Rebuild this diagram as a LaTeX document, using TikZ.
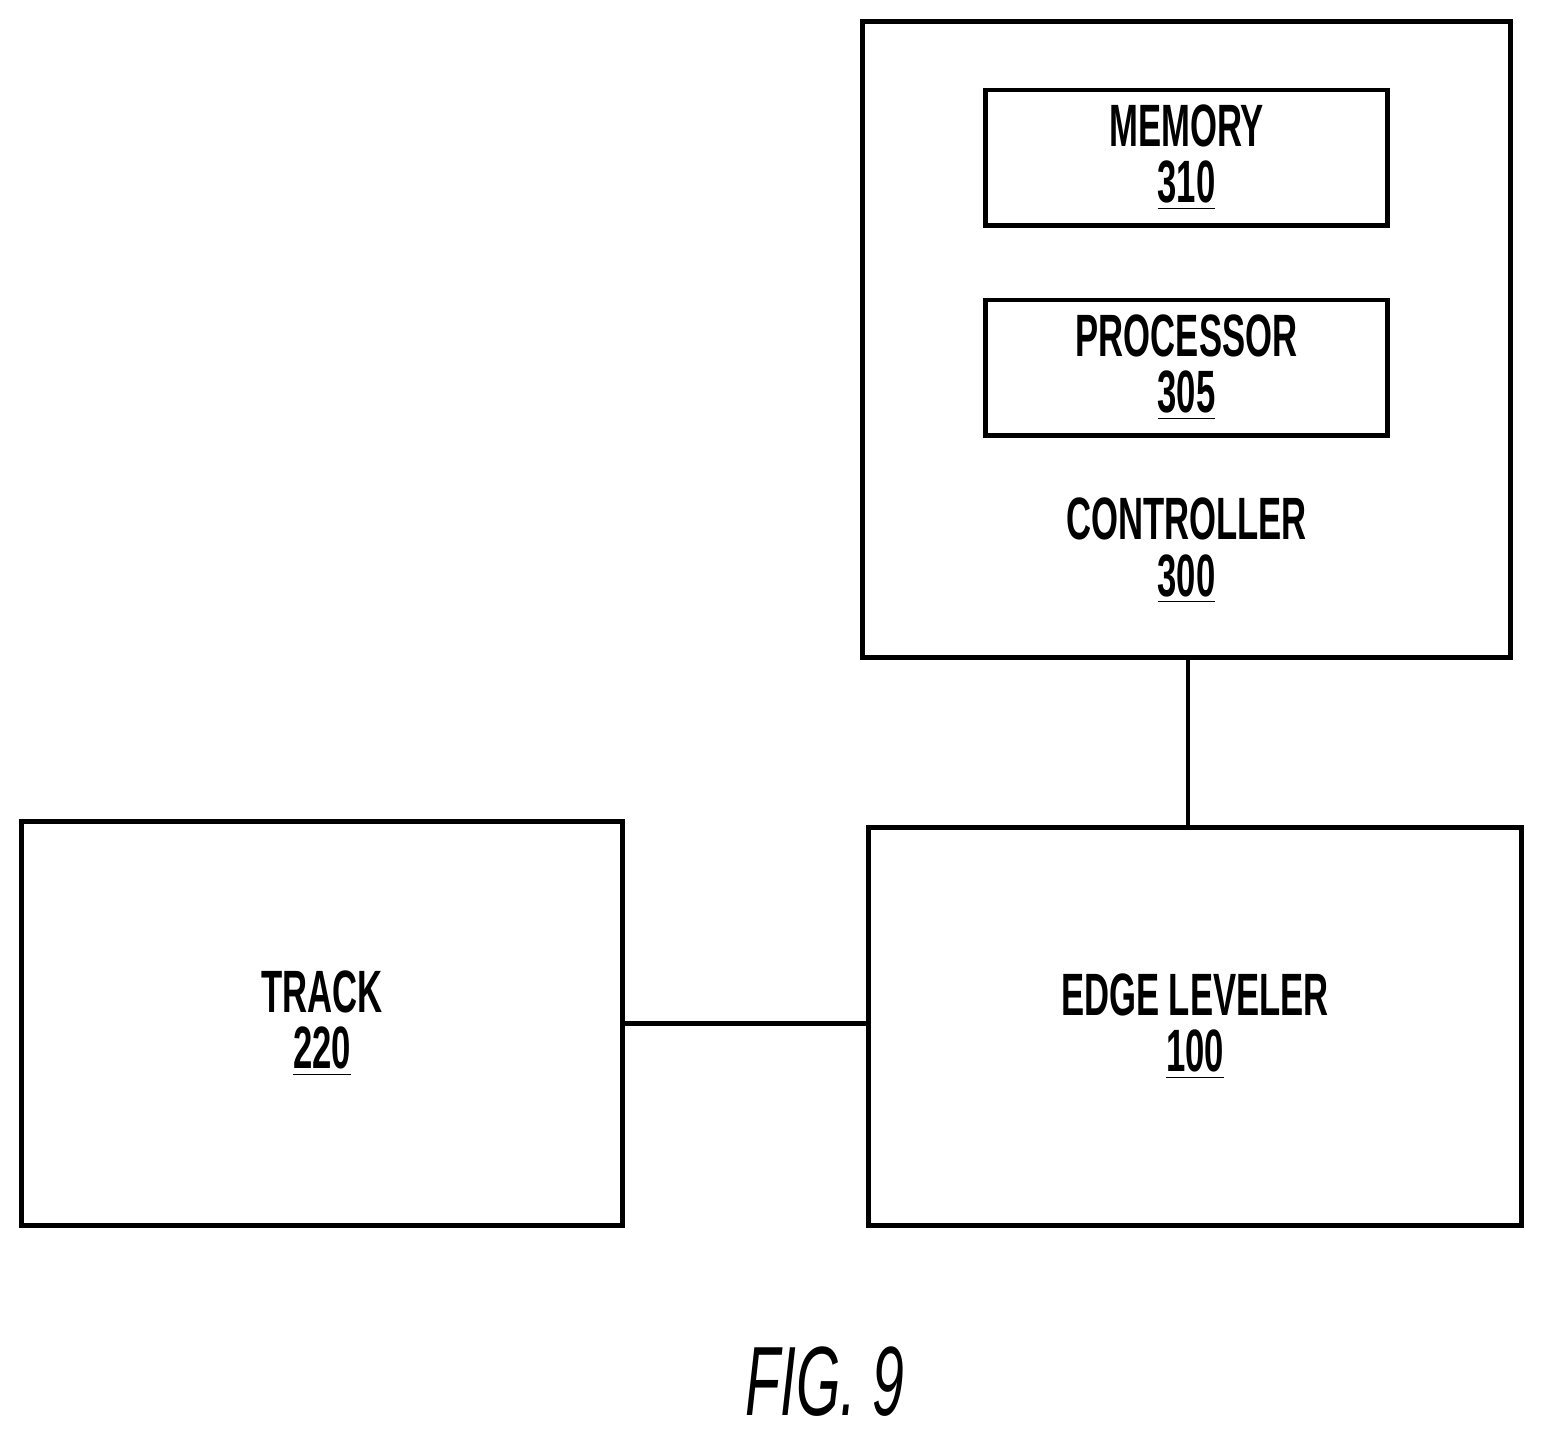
\documentclass[tikz,border=0pt]{standalone}
\usepackage{fontspec}
\setmainfont{Liberation Sans}[FakeStretch=0.58]
\usetikzlibrary{positioning}
\tikzset{
  block/.style={draw=black, line width=1.4pt, inner sep=0pt, align=center,
    font=\fontsize{17}{16}\selectfont\bfseries},
  wire/.style={draw=black, line width=1.2pt}
}
\begin{document}
\begin{tikzpicture}[x=0.01cm, y=-0.01cm]
	\useasboundingbox (0,0) rectangle (1545,1435);
	% controller with its parts
	\node[block, minimum width=6.47cm, minimum height=6.35cm] (ctrl) at (1186.5,339.5) {};
	\node[block, minimum width=4.01cm, minimum height=1.35cm] (mem) at (1186.5,157.5) {MEMORY\\\underline{310}};
	\node[block, minimum width=4.01cm, minimum height=1.35cm] (proc) at (1186.5,367.5) {PROCESSOR\\\underline{305}};
	\node[align=center, font=\fontsize{17}{16}\selectfont\bfseries] (ctrltext) at (1186.5,551) {CONTROLLER\\\underline{300}};
	% lower blocks
	\node[block, minimum width=6.0cm, minimum height=4.03cm] (track) at (322,1023.5) {TRACK\\\underline{220}};
	\node[block, minimum width=6.52cm, minimum height=3.97cm] (edge) at (1195,1026.5) {EDGE LEVELER\\\underline{100}};
	% connections
	\draw[wire] (ctrl.south -| 1188,0) -- (edge.north -| 1188,0);
	\draw[wire] (track.east) -- (track.east -| edge.west);
	\node[font=\fontsize{28}{30}\selectfont\itshape] (fig) at (825,1382) {FIG.\,9};
\end{tikzpicture}
\end{document}
